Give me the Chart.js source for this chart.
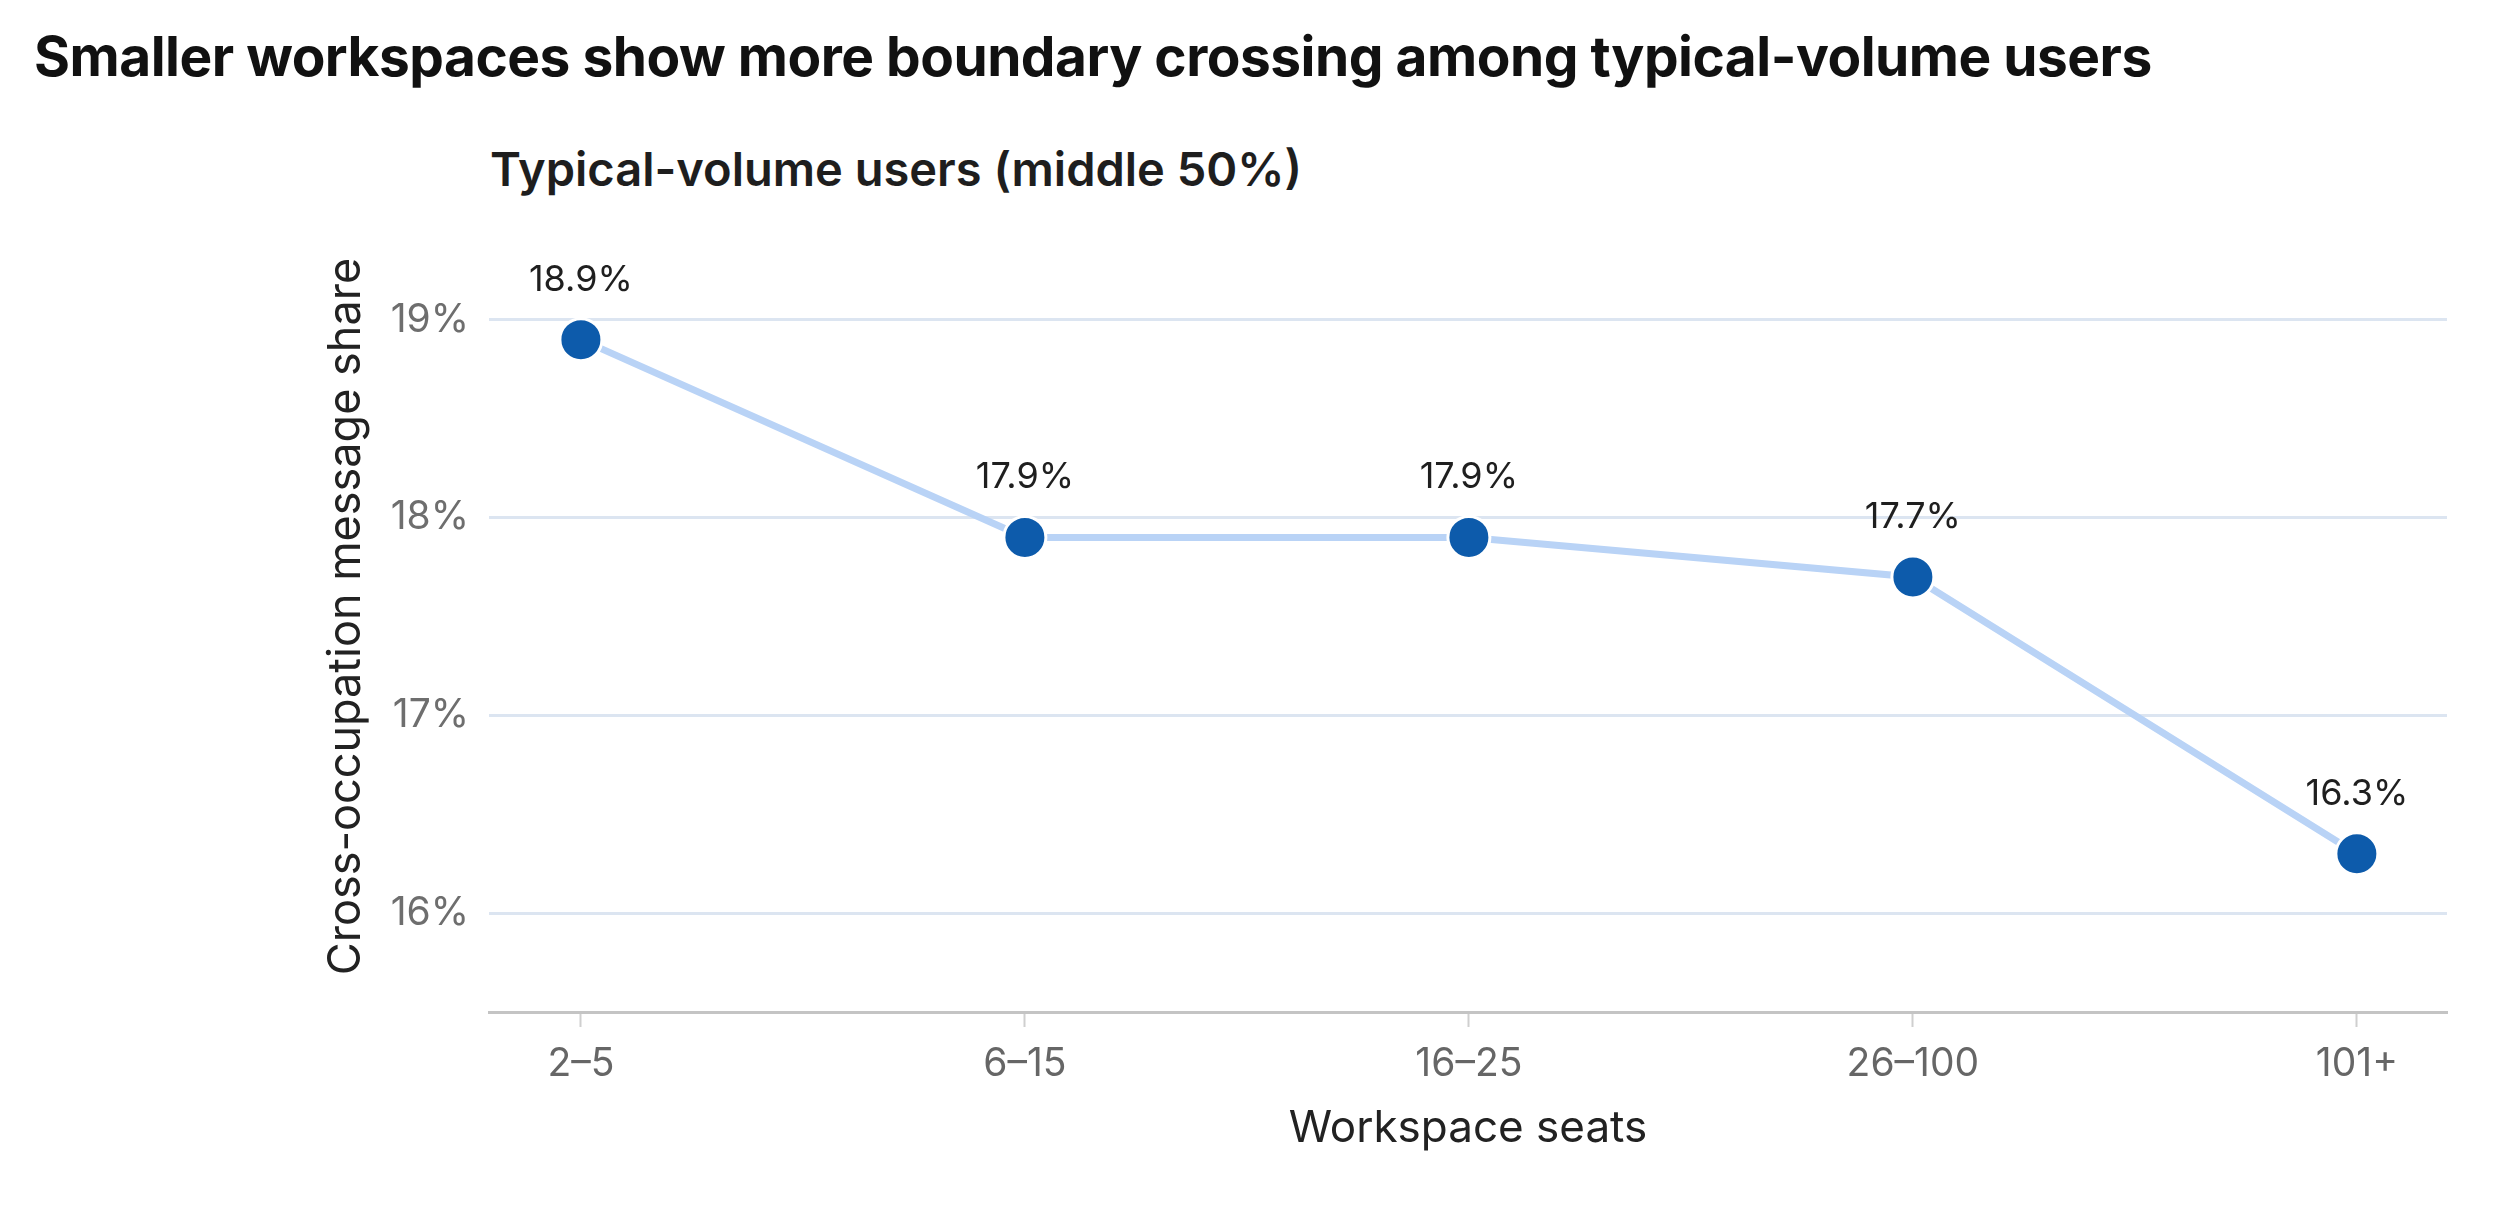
<!DOCTYPE html>
<html lang="en">
<head>
  <meta charset="UTF-8">
  <title>Boundary crossing by workspace size</title>
  <script src="https://cdn.jsdelivr.net/npm/chart.js"></script>
  <style>
    html, body { margin: 0; padding: 0; background: #fff; }
    body { width: 2518px; height: 1214px; position: relative; overflow: hidden; font-family: Inter, "Liberation Sans", sans-serif; }
    h1 {
      position: absolute; left: 34px; top: 23px; margin: 0;
      font-size: 55px; font-weight: 700; color: #111; letter-spacing: -0.5px;
    }
    h2 {
      position: absolute; left: 490px; top: 140px; margin: 0;
      font-size: 47px; font-weight: 600; color: #1e1e1e;
    }
    #wrap { position: absolute; left: 0; top: 0; width: 2518px; height: 1214px; }
  </style>
</head>
<body>
  <h1>Smaller workspaces show more boundary crossing among typical-volume users</h1>
  <h2>Typical-volume users (middle 50%)</h2>
  <div id="wrap"><canvas id="chart"></canvas></div>
  <script>
    // data
    const seats = ['2\u20135', '6\u201315', '16\u201325', '26\u2013100', '101+'];
    const share = [18.9, 17.9, 17.9, 17.7, 16.3];
    const yTicks = [16, 17, 18, 19];

    // value labels above each point
    const pointLabels = {
      id: 'pointLabels',
      afterDatasetsDraw(chart) {
        const ctx = chart.ctx;
        const meta = chart.getDatasetMeta(0);
        ctx.save();
        ctx.font = '36px Inter';
        ctx.fillStyle = '#1f1f1f';
        ctx.textAlign = 'center';
        ctx.textBaseline = 'alphabetic';
        meta.data.forEach((pt, i) => {
          ctx.fillText(share[i].toFixed(1) + '%', pt.x, pt.y - 49);
        });
        ctx.restore();
      }
    };

    const ctx = document.getElementById('chart').getContext('2d');
    new Chart(ctx, {
      type: 'line',
      data: {
        datasets: [{
          data: share.map((v, i) => ({ x: i, y: v })),
          borderColor: '#b9d3f6',
          borderWidth: 7,
          pointRadius: 21,
          pointHoverRadius: 21,
          pointBackgroundColor: '#0d5bab',
          pointBorderColor: '#ffffff',
          pointBorderWidth: 3,
          tension: 0,
          clip: false
        }]
      },
      options: {
        responsive: true,
        maintainAspectRatio: false,
        animation: false,
        layout: { padding: { left: 315, right: 71, top: 221, bottom: 55 } },
        plugins: { legend: { display: false }, tooltip: { enabled: false } },
        scales: {
          x: {
            type: 'linear',
            min: -0.207,
            max: 4.203,
            border: { display: true, color: '#c4c4c4', width: 3 },
            grid: { drawOnChartArea: false, drawTicks: true, tickLength: 15, tickColor: '#cfcfcf', tickWidth: 2 },
            ticks: {
              stepSize: 1,
              includeBounds: false,
              padding: 14,
              color: '#666',
              font: { family: 'Inter', size: 39 },
              callback: v => Number.isInteger(v) ? seats[v] : ''
            },
            title: {
              display: true, text: 'Workspace seats', color: '#222',
              font: { family: 'Inter', size: 44 }
            },
            afterFit: s => { s.height = 147; }
          },
          y: {
            min: 15.5,
            max: 19.5,
            border: { display: false },
            grid: { color: '#dce5f1', lineWidth: 3, drawTicks: false },
            afterBuildTicks: s => { s.ticks = yTicks.map(v => ({ value: v })); },
            ticks: {
              padding: 20,
              color: '#6e6e6e',
              font: { family: 'Inter', size: 39 },
              callback: v => v + '%'
            },
            title: {
              display: true, text: 'Cross-occupation message share', color: '#222',
              font: { family: 'Inter', size: 45 }
            },
            afterFit: s => { s.width = 174; }
          }
        }
      },
      plugins: [pointLabels]
    });
  </script>
</body>
</html>
